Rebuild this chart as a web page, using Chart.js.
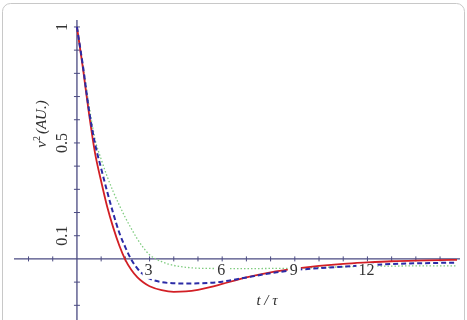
<!DOCTYPE html>
<html>
<head>
<meta charset="utf-8">
<script src="https://cdn.jsdelivr.net/npm/chart.js@4.4.1/dist/chart.umd.min.js"></script>
<style>
  html, body { margin: 0; padding: 0; background: #fff; }
  #wrap { width: 467px; height: 320px; }
</style>
</head>
<body>
<div id="wrap"><canvas id="relaxChart" width="467" height="320"></canvas></div>
<script>
// t / tau sample points
const tValues    = [0, 0.25, 0.5, 0.75, 1, 1.25, 1.5, 1.75, 2, 2.25, 2.5, 2.75, 3, 3.5, 4, 4.5, 5, 5.5, 6, 7, 8, 9, 10, 11, 12, 13, 14, 15, 15.7];
const redCurve   = [1, 0.82, 0.625, 0.455, 0.335, 0.225, 0.135, 0.058, -0.004, -0.048, -0.08, -0.102, -0.118, -0.135, -0.142, -0.14, -0.133, -0.122, -0.108, -0.08, -0.058, -0.042, -0.03, -0.021, -0.015, -0.01, -0.007, -0.005, -0.004];
const blueCurve  = [1, 0.83, 0.64, 0.495, 0.39, 0.29, 0.196, 0.113, 0.05, -0.004, -0.042, -0.068, -0.085, -0.1, -0.105, -0.106, -0.105, -0.103, -0.098, -0.08, -0.062, -0.048, -0.04, -0.033, -0.027, -0.022, -0.019, -0.017, -0.016];
const greenCurve = [1, 0.835, 0.66, 0.515, 0.43, 0.355, 0.29, 0.232, 0.178, 0.13, 0.085, 0.048, 0.018, -0.012, -0.028, -0.036, -0.04, -0.041, -0.042, -0.042, -0.041, -0.04, -0.037, -0.034, -0.032, -0.031, -0.03, -0.03, -0.03];

// axis ticks
const xTicks = [-2, -1, 1, 2, 3, 4, 5, 6, 7, 8, 9, 10, 11, 12, 13, 14, 15];
const xLabelTicks = [3, 6, 9, 12];
const yTicks = [-0.2, -0.1, 0.1, 0.2, 0.3, 0.4, 0.5, 0.6, 0.7, 0.8, 0.9, 1];
const yLabelTicks = [0.1, 0.5, 1];

const axisColor = '#4b4b82';
const labelFont = "16px 'Liberation Serif', 'DejaVu Serif', serif";
const italicFont = "italic 15px 'Liberation Serif', 'DejaVu Serif', serif";

const toPoints = (arr) => tValues.map((t, i) => ({ x: t, y: arr[i] }));

// axes crossing at the origin, drawn from the chart's own scales
const crossAxes = {
    id: 'crossAxes',
    beforeDraw(chart) {
        const { ctx } = chart;
        // rounded frame
        ctx.save();
        ctx.strokeStyle = '#c8c8c8';
        ctx.lineWidth = 1;
        const l = 2.5, t = 3.5, r = 464.5, b = 340, rad = 8;
        ctx.beginPath();
        ctx.moveTo(l + rad, t);
        ctx.lineTo(r - rad, t);
        ctx.arcTo(r, t, r, t + rad, rad);
        ctx.lineTo(r, b);
        ctx.moveTo(l, b);
        ctx.lineTo(l, t + rad);
        ctx.arcTo(l, t, l + rad, t, rad);
        ctx.stroke();
        ctx.restore();
    },
    beforeDatasetsDraw(chart) {
        const { ctx, chartArea, scales: { x, y } } = chart;
        const x0 = x.getPixelForValue(0);
        const y0 = y.getPixelForValue(0);
        ctx.save();
        ctx.strokeStyle = axisColor;
        ctx.lineWidth = 1.3;
        ctx.beginPath();
        ctx.moveTo(chartArea.left, y0);
        ctx.lineTo(chartArea.right + 3, y0);
        ctx.moveTo(x0, chartArea.top);
        ctx.lineTo(x0, chartArea.bottom + 2);
        ctx.stroke();
        ctx.lineWidth = 1;
        ctx.beginPath();
        xTicks.forEach(v => {
            const px = x.getPixelForValue(v);
            ctx.moveTo(px, y0 - 2.5);
            ctx.lineTo(px, y0 + 2.5);
        });
        yTicks.forEach(v => {
            const py = y.getPixelForValue(v);
            ctx.moveTo(x0 - 3, py);
            ctx.lineTo(x0 + 3, py);
        });
        ctx.stroke();
        ctx.restore();
    },
    afterDatasetsDraw(chart) {
        const { ctx, scales: { x, y } } = chart;
        const x0 = x.getPixelForValue(0);
        const y0 = y.getPixelForValue(0);
        ctx.save();
        ctx.font = labelFont;

        // x tick labels (white box hides the curves behind them)
        ctx.textAlign = 'center';
        ctx.textBaseline = 'top';
        xLabelTicks.forEach(v => {
            const px = x.getPixelForValue(v);
            const txt = String(v);
            const w = ctx.measureText(txt).width;
            ctx.fillStyle = '#fff';
            ctx.fillRect(px - w / 2 - 3, y0 + 5, w + 5, 15);
            ctx.fillStyle = '#333';
            ctx.fillText(txt, px - 1, y0 + 4);
        });

        // y tick labels, rotated
        yLabelTicks.forEach(v => {
            const py = y.getPixelForValue(v);
            ctx.save();
            ctx.translate(x0 - 14, py);
            ctx.rotate(-Math.PI / 2);
            ctx.textAlign = 'center';
            ctx.textBaseline = 'middle';
            ctx.fillStyle = '#333';
            ctx.fillText(String(v), 0, 0);
            ctx.restore();
        });

        // y axis title: v^2 (AU.)
        ctx.save();
        ctx.translate(42, 124);
        ctx.rotate(-Math.PI / 2);
        ctx.textBaseline = 'middle';
        ctx.textAlign = 'left';
        ctx.fillStyle = '#2e2e2e';
        ctx.font = italicFont;
        const wv = ctx.measureText('v').width;
        const wp = ctx.measureText('(AU.)').width;
        ctx.font = "10px 'Liberation Serif', serif";
        const w2 = ctx.measureText('2').width;
        const total = wv + w2 + 2 + wp;
        let cx = -total / 2;
        ctx.font = italicFont;
        ctx.fillText('v', cx, 0);
        cx += wv;
        ctx.font = "10px 'Liberation Serif', serif";
        ctx.fillText('2', cx, -5);
        cx += w2 + 2;
        ctx.font = italicFont;
        ctx.fillText('(AU.)', cx, 0);
        ctx.restore();

        // x axis title
        ctx.font = italicFont;
        ctx.textAlign = 'center';
        ctx.textBaseline = 'middle';
        ctx.fillStyle = '#2e2e2e';
        ctx.fillText('t / τ', 267, 301);
        ctx.restore();
    }
};

const chart = new Chart(document.getElementById('relaxChart'), {
    type: 'line',
    data: {
        datasets: [
            {
                label: 'blue',
                data: toPoints(blueCurve),
                borderColor: '#2b2ba6',
                borderWidth: 2,
                borderDash: [5, 3],
                pointRadius: 0,
                cubicInterpolationMode: 'monotone',
                fill: false
            },
            {
                label: 'red',
                data: toPoints(redCurve),
                borderColor: '#d21f25',
                borderWidth: 1.8,
                pointRadius: 0,
                cubicInterpolationMode: 'monotone',
                fill: false
            },
            {
                label: 'green',
                data: toPoints(greenCurve),
                borderColor: '#7fcc7f',
                borderWidth: 1.3,
                borderDash: [1.5, 2],
                pointRadius: 0,
                cubicInterpolationMode: 'monotone',
                fill: false
            }
        ]
    },
    options: {
        responsive: false,
        animation: false,
        devicePixelRatio: 1,
        layout: { padding: { left: 14, right: 10, top: 20, bottom: 1 } },
        plugins: {
            legend: { display: false },
            tooltip: { enabled: false }
        },
        scales: {
            x: { type: 'linear', min: -2.6, max: 15.7, display: false },
            y: { type: 'linear', min: -0.259, max: 1.03, display: false }
        }
    },
    plugins: [crossAxes]
});
</script>
</body>
</html>
